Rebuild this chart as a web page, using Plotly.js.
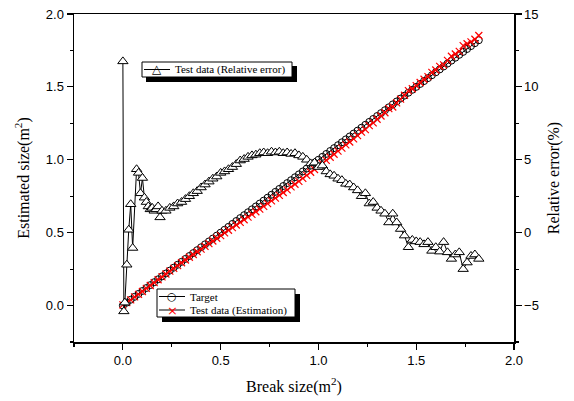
<!DOCTYPE html>
<html>
<head>
<meta charset="utf-8">
<script src="https://cdn.plot.ly/plotly-3.0.1.min.js"></script>
<style>html,body{margin:0;padding:0;background:#fff;}#chart{width:574px;height:401px;}</style>
</head>
<body>
<div id="chart"></div>
<script>
// Break size (m^2) for Target / Estimation series
const breakSize = [0.00,0.02,0.04,0.06,0.08,0.10,0.12,0.14,0.16,0.18,0.20,0.22,0.24,0.26,0.28,0.30,0.32,0.34,0.36,0.38,0.40,0.42,0.44,0.46,0.48,0.50,0.52,0.54,0.56,0.58,0.60,0.62,0.64,0.66,0.68,0.70,0.72,0.74,0.76,0.78,0.80,0.82,0.84,0.86,0.88,0.90,0.92,0.94,0.96,0.98,1.00,1.02,1.04,1.06,1.08,1.10,1.12,1.14,1.16,1.18,1.20,1.22,1.24,1.26,1.28,1.30,1.32,1.34,1.36,1.38,1.40,1.42,1.44,1.46,1.48,1.50,1.52,1.54,1.56,1.58,1.60,1.62,1.64,1.66,1.68,1.70,1.72,1.74,1.76,1.78,1.80,1.82];
const targetSize = [0.00,0.02,0.04,0.06,0.08,0.10,0.12,0.14,0.16,0.18,0.20,0.22,0.24,0.26,0.28,0.30,0.32,0.34,0.36,0.38,0.40,0.42,0.44,0.46,0.48,0.50,0.52,0.54,0.56,0.58,0.60,0.62,0.64,0.66,0.68,0.70,0.72,0.74,0.76,0.78,0.80,0.82,0.84,0.86,0.88,0.90,0.92,0.94,0.96,0.98,1.00,1.02,1.04,1.06,1.08,1.10,1.12,1.14,1.16,1.18,1.20,1.22,1.24,1.26,1.28,1.30,1.32,1.34,1.36,1.38,1.40,1.42,1.44,1.46,1.48,1.50,1.52,1.54,1.56,1.58,1.60,1.62,1.64,1.66,1.68,1.70,1.72,1.74,1.76,1.78,1.80,1.82];
const estimatedSize = [0.005,0.0204,0.0392,0.0591,0.0767,0.0963,0.1175,0.1378,0.1576,0.1768,0.197,0.2167,0.2359,0.2553,0.2744,0.2937,0.3126,0.3315,0.3503,0.3692,0.3876,0.4061,0.4246,0.443,0.4615,0.4795,0.4982,0.5165,0.5348,0.5527,0.5703,0.5887,0.6067,0.625,0.6436,0.6619,0.6804,0.6997,0.7178,0.7371,0.7556,0.7753,0.7938,0.8136,0.832,0.8523,0.8722,0.893,0.9144,0.933,0.955,0.9731,0.9963,1.0176,1.0379,1.0593,1.0797,1.1018,1.1217,1.1434,1.1652,1.1895,1.2065,1.2348,1.2531,1.2779,1.3002,1.3226,1.3505,1.3621,1.3902,1.4165,1.4429,1.4746,1.4874,1.509,1.5299,1.5523,1.5701,1.5998,1.616,1.6411,1.6507,1.6824,1.7102,1.7255,1.7432,1.7835,1.7961,1.8085,1.827,1.8528];
// Relative error (%) series
const errX = [0.000,0.005,0.010,0.020,0.030,0.040,0.050,0.070,0.080,0.090,0.100,0.110,0.120,0.130,0.140,0.150,0.160,0.170,0.180,0.190,0.200,0.22,0.24,0.26,0.28,0.30,0.32,0.34,0.36,0.38,0.40,0.42,0.44,0.46,0.48,0.50,0.52,0.54,0.56,0.58,0.60,0.62,0.64,0.66,0.68,0.70,0.72,0.74,0.76,0.78,0.80,0.82,0.84,0.86,0.88,0.90,0.92,0.94,0.96,0.98,1.00,1.02,1.04,1.06,1.08,1.10,1.12,1.14,1.16,1.18,1.20,1.22,1.24,1.26,1.28,1.30,1.32,1.34,1.36,1.38,1.40,1.42,1.44,1.46,1.48,1.50,1.52,1.54,1.56,1.58,1.60,1.62,1.64,1.66,1.68,1.70,1.72,1.74,1.76,1.78,1.80,1.82];
const relError = [11.75,-5.4,-4.8,-2.2,0.2,1.95,-1.05,4.35,4.1,2.7,3.75,2.4,2.1,1.8,1.6,1.7,1.5,1.6,1.8,1.05,1.5,1.5,1.7,1.8,2.0,2.1,2.3,2.5,2.7,2.85,3.1,3.3,3.5,3.7,3.85,4.1,4.2,4.35,4.5,4.7,4.95,5.05,5.2,5.3,5.35,5.45,5.5,5.45,5.55,5.5,5.55,5.45,5.5,5.4,5.45,5.3,5.2,5.0,4.75,4.8,4.5,4.6,4.2,4.0,3.9,3.7,3.6,3.35,3.3,3.1,2.9,2.5,2.7,2.0,2.1,1.7,1.5,1.3,0.7,1.3,0.7,0.25,-0.2,-1.0,-0.5,-0.6,-0.65,-0.8,-0.65,-1.25,-1.0,-1.3,-0.65,-1.35,-1.8,-1.5,-1.35,-2.5,-2.05,-1.6,-1.5,-1.8];

const seriesNames = ['Target', 'Test data (Estimation)', 'Test data (Relative error)'];

const serif = 'Liberation Serif, Times New Roman, serif';
const sans = 'Liberation Sans, Arial, sans-serif';

const traces = [
  {x: breakSize, y: targetSize, name: seriesNames[0], type: 'scatter', mode: 'lines+markers',
   line: {color: '#000', width: 1},
   marker: {symbol: 'circle-open', size: 7, color: '#000', line: {width: 1, color: '#000'}}},
  {x: breakSize, y: estimatedSize, name: seriesNames[1], type: 'scatter', mode: 'lines+markers',
   line: {color: '#000', width: 1},
   marker: {symbol: 'x-thin-open', size: 7, color: '#ff0000', line: {width: 1.2, color: '#ff0000'}}},
  {x: errX, y: relError, name: seriesNames[2], type: 'scatter', mode: 'lines+markers',
   yaxis: 'y2',
   line: {color: '#000', width: 1},
   marker: {symbol: 'triangle-up', size: 9, color: '#fff', line: {width: 1, color: '#000'}}}
];

const axisCommon = {
  showgrid: false, zeroline: false, showline: true, linecolor: '#000', linewidth: 1.5,
  ticks: 'outside', ticklen: 6, tickwidth: 1.2, tickcolor: '#000',
  tickfont: {family: sans, size: 13, color: '#000'}
};

// helpers converting pixel positions of the legend boxes to paper fractions
const L = 74, R = 514, T = 14, B = 342;
const px = v => (v - L) / (R - L);
const py = v => (B - v) / (B - T);

function rect(x0, y0, x1, y1, fill, lw) {
  return {type: 'rect', xref: 'paper', yref: 'paper', layer: 'above',
    x0: px(x0), x1: px(x1), y0: py(y1), y1: py(y0),
    fillcolor: fill, line: {width: lw, color: '#000'}};
}
function seg(x0, x1, y, color) {
  return {type: 'line', xref: 'paper', yref: 'paper', layer: 'above',
    x0: px(x0), x1: px(x1), y0: py(y), y1: py(y), line: {width: 1, color: color}};
}
function label(x, y, text, opts) {
  return Object.assign({xref: 'paper', yref: 'paper', x: px(x), y: py(y), text: text,
    showarrow: false, xanchor: 'left', yanchor: 'middle',
    font: {family: serif, size: 11, color: '#000'}}, opts || {});
}

const layout = {
  width: 574, height: 401,
  margin: {l: 74, r: 60, t: 14, b: 59},
  paper_bgcolor: '#fff', plot_bgcolor: '#fff',
  showlegend: false,
  xaxis: Object.assign({}, axisCommon, {
    range: [-0.25, 2.0], tick0: 0, dtick: 0.5, tickformat: '.1f', mirror: true,
    minor: {ticks: 'outside', ticklen: 3, tickwidth: 1.2, tickcolor: '#000', dtick: 0.25, tick0: 0},
    title: {text: 'Break size(m<sup>2</sup>)', font: {family: serif, size: 16, color: '#000'}, standoff: 13}
  }),
  yaxis: Object.assign({}, axisCommon, {
    range: [-0.25, 2.0], tick0: 0, dtick: 0.5, tickformat: '.1f',
    minor: {ticks: 'outside', ticklen: 3, tickwidth: 1.2, tickcolor: '#000', dtick: 0.25, tick0: 0},
    title: {text: 'Estimated size(m<sup>2</sup>)', font: {family: serif, size: 16, color: '#000'}, standoff: 12}
  }),
  yaxis2: Object.assign({}, axisCommon, {
    overlaying: 'y', side: 'right', range: [-7.5, 15], tick0: 0, dtick: 5,
    minor: {ticks: 'outside', ticklen: 3, tickwidth: 1.2, tickcolor: '#000', dtick: 2.5, tick0: 0},
    title: {text: 'Relative error(%)', font: {family: serif, size: 16, color: '#000'}, standoff: 10}
  }),
  shapes: [
    // legend 1 (relative error)
    rect(146, 66, 297, 82, '#000', 0),
    rect(142, 62, 292, 77, '#fff', 1),
    seg(144, 170, 69.5, '#000'),
    // legend 2 (target / estimation)
    rect(162, 294, 300, 322, '#000', 0),
    rect(157, 289, 295, 317, '#fff', 1),
    seg(159, 185, 296.5, '#000'),
    seg(159, 185, 310, '#000')
  ],
  annotations: [
    label(157, 68.5, '△', {xanchor: 'center', font: {family: 'DejaVu Sans', size: 12, color: '#000'}}),
    label(173, 69.5, seriesNames[2]),
    label(172, 296.5, '○', {xanchor: 'center', font: {family: 'DejaVu Sans', size: 11, color: '#000'}}),
    label(188, 296.5, seriesNames[0]),
    label(172, 310, '×', {xanchor: 'center', font: {family: 'DejaVu Sans', size: 13, color: '#ff0000'}}),
    label(188, 310, seriesNames[1])
  ]
};

Plotly.newPlot('chart', traces, layout, {displayModeBar: false, staticPlot: true});
</script>
</body>
</html>
